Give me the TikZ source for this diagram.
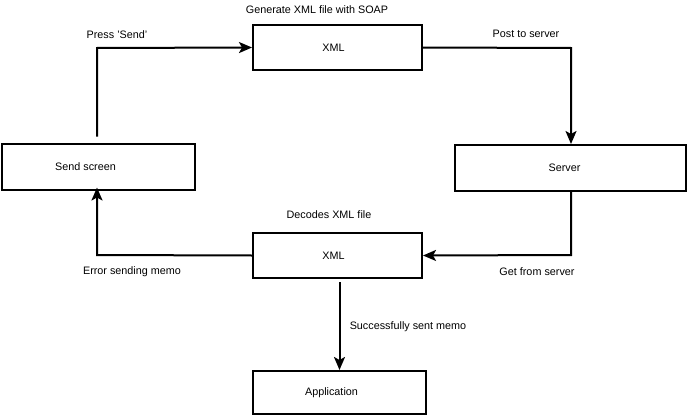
\documentclass[tikz,border=0pt]{standalone}
\usepackage{fontspec}
\setmainfont{Liberation Sans}
\usetikzlibrary{arrows.meta}
\begin{document}
\begin{tikzpicture}[x=1pt,y=-1pt,
  box/.style={draw,line width=2pt,minimum width=#1,minimum height=45pt,inner sep=0pt,font=\fontsize{10.8}{12}\selectfont},
  box/.default=169pt,
  lbl/.style={font=\fontsize{10.8}{12}\selectfont,inner sep=0pt},
  conn/.style={line width=2pt,-{Stealth[length=13pt,width=11pt,inset=3pt]}}]
\useasboundingbox (0,0) rectangle (688,415);
\node[box] (xml1) at (337.5,47.5) {XML\kern8pt};
\node[box=193pt,minimum height=46pt] (send) at (98,166.5) {Send screen\kern25pt};
\node[box=231pt,minimum height=46pt] (server) at (570.5,168) {Server\kern12pt};
\node[box] (xml2) at (337.5,255.5) {XML\kern8pt};
\node[box=173pt,minimum height=43pt] (app) at (339.5,392.5) {Application\kern16pt};
\node[lbl] (tgen) at (317,10) {Generate XML file with SOAP};
\node[lbl] (tpress) at (117,35) {Press 'Send'};
\node[lbl] (tpost) at (526,34) {Post to server};
\node[lbl] (tdec) at (329,215) {Decodes XML file};
\node[lbl] (terr) at (132,272) {Error sending memo};
\node[lbl] (tget) at (537,272) {Get from server};
\node[lbl] (tsucc) at (408,327) {Successfully sent memo};
\coordinate (c1) at (97,48);
\coordinate (c2) at (571,48);
\coordinate (c3) at (571,255);
\coordinate (c4) at (97,255);
\draw[conn,shorten <=6pt] (send.north -| c1) -- (c1) -- (xml1.west);
\draw[conn] (xml1.east) -- (c2) -- (server.north -| c2);
\draw[conn] (server.south -| c3) -- (c3) -- (xml2.east);
\draw[conn,shorten >=-3pt] (xml2.west) -- (c4) -- (send.south -| c4);
\draw[conn,shorten <=3pt] (xml2.south -| app.north) -- (app.north);
\end{tikzpicture}
\end{document}
